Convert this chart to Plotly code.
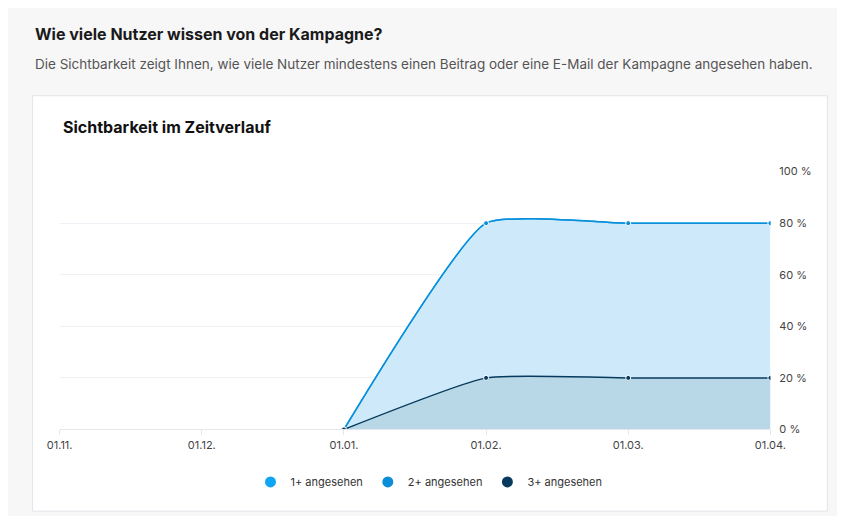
import plotly.graph_objects as go

months = ["01.11.", "01.12.", "01.01.", "01.02.", "01.03.", "01.04."]
x_data = ["01.01.", "01.02.", "01.03.", "01.04."]
seen_1 = [0, 80, 80, 80]
seen_2 = [0, 80, 80, 80]
seen_3 = [0, 20, 20, 20]
y_ticks = [0, 20, 40, 60, 80, 100]
y_labels = [f"{v} %" for v in y_ticks]

names = ["1+ angesehen", "2+ angesehen", "3+ angesehen"]
colors = ["#0ea5f5", "#0a8ed8", "#073a5c"]
fills = ["#cde9fa", None, "#b8d8e8"]

fig = go.Figure()
for name, vals, col, fc in zip(names, [seen_1, seen_2, seen_3], colors, fills):
    fig.add_trace(go.Scatter(x=x_data, y=vals, name=name, mode="lines+markers", showlegend=False,
                             line=dict(color=col, width=1.5, shape="spline", smoothing=0.45),
                             fill="tozeroy" if fc else None, fillcolor=fc,
                             marker=dict(size=5, color=col, line=dict(color="white", width=1))))
# legend entries as plain dots
for name, col in zip(names, colors):
    fig.add_trace(go.Scatter(x=[None], y=[None], name=name, mode="markers",
                             marker=dict(size=11, color=col)))

W, H = 845, 516
fig.update_layout(
    width=W, height=H, margin=dict(l=0, r=0, t=0, b=0),
    paper_bgcolor="#f7f7f8", plot_bgcolor="white",
    font=dict(family="Inter, Roboto, sans-serif", color="#333"),
    legend=dict(orientation="h", x=0.5, xanchor="center", y=1 - 480 / H, yanchor="middle",
                font=dict(size=11, color="#333"), itemwidth=30, bgcolor="rgba(0,0,0,0)"),
    xaxis=dict(type="category", categoryorder="array", categoryarray=months, range=[0, 5],
               domain=[40 / W, 776 / W], showgrid=False, zeroline=False,
               showline=True, linecolor="#e3e6ea", ticks="outside", ticklen=5, tickcolor="#e3e6ea",
               tickfont=dict(size=11, color="#444")),
    yaxis=dict(side="right", range=[0, 100], tickvals=y_ticks, ticktext=y_labels,
               domain=[1 - 426 / H, 1 - 161 / H], gridcolor="#eef1f5", zeroline=False,
               tickfont=dict(size=11, color="#444"), ticklabelstandoff=8),
    shapes=[dict(type="rect", xref="paper", yref="paper", x0=12 / W, x1=835 / W,
                 y0=1 - 510 / H, y1=1 - 83 / H, fillcolor="white",
                 line=dict(color="#e2e4e8", width=1), layer="below")],
    annotations=[
        dict(text="<b>Wie viele Nutzer wissen von der Kampagne?</b>", x=12 / W, y=1 - 20 / H,
             xref="paper", yref="paper", xanchor="left", yanchor="middle", showarrow=False,
             font=dict(size=16, color="#1a1a1a")),
        dict(text="Die Sichtbarkeit zeigt Ihnen, wie viele Nutzer mindestens einen Beitrag oder eine E-Mail der Kampagne angesehen haben.",
             x=12 / W, y=1 - 50 / H, xref="paper", yref="paper", xanchor="left", yanchor="middle",
             showarrow=False, font=dict(size=13.5, color="#555")),
        dict(text="<b>Sichtbarkeit im Zeitverlauf</b>", x=41 / W, y=1 - 115 / H,
             xref="paper", yref="paper", xanchor="left", yanchor="middle", showarrow=False,
             font=dict(size=16, color="#111")),
    ],
)
fig.write_html("out.html")
